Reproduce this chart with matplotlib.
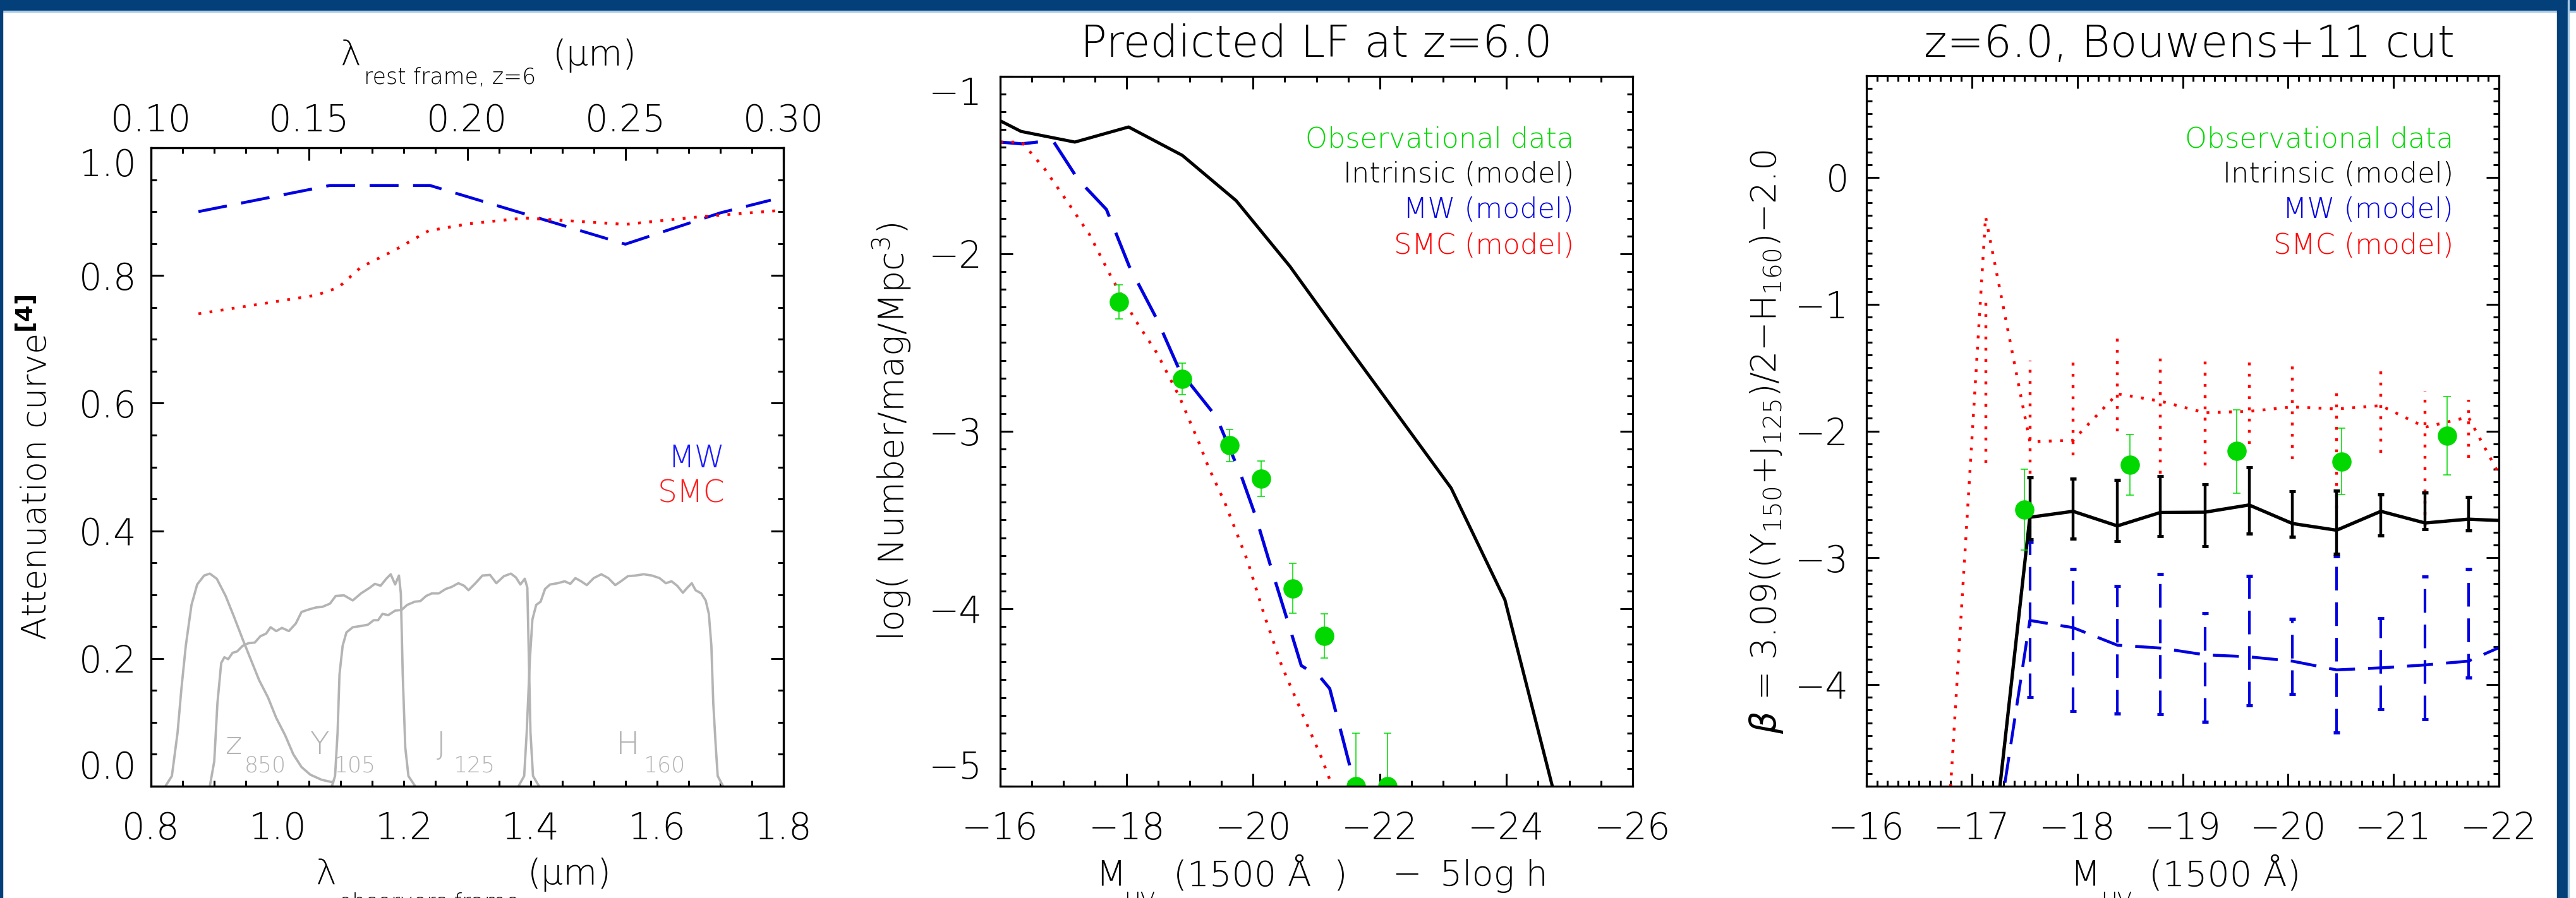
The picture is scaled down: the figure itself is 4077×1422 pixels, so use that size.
import numpy as np
import matplotlib
matplotlib.use("Agg")
import matplotlib.pyplot as plt
from matplotlib.patches import Rectangle
from matplotlib.ticker import MultipleLocator, FormatStrFormatter

W, H, DPI = 4077, 1422, 100

# ---------------- left panel: attenuation curves + filter throughputs
mw_lam = [0.875, 1.083, 1.241, 1.550, 1.700, 1.780]
mw_att = [0.900, 0.941, 0.941, 0.849, 0.898, 0.918]
smc_lam = [0.875, 1.061, 1.096, 1.132, 1.186, 1.239, 1.302, 1.391, 1.550, 1.668, 1.797]
smc_att = [0.740, 0.769, 0.781, 0.813, 0.840, 0.870, 0.881, 0.890, 0.880, 0.892, 0.902]

z850_lam = [0.824, 0.833, 0.842, 0.848, 0.855, 0.864, 0.873, 0.884, 0.893, 0.904, 0.918,
            0.931, 0.945, 0.958, 0.971, 0.985, 0.998, 1.012, 1.025, 1.038, 1.052, 1.070, 1.088]
z850_thr = [0.002, 0.016, 0.084, 0.152, 0.220, 0.284, 0.316, 0.330, 0.333, 0.325, 0.298,
            0.266, 0.230, 0.198, 0.166, 0.139, 0.107, 0.080, 0.050, 0.030, 0.018, 0.010, 0.006]
y105_lam = [0.893, 0.900, 0.905, 0.911, 0.916, 0.922, 0.929, 0.936, 0.945, 0.954, 0.964, 0.973,
            0.982, 0.989, 0.998, 1.007, 1.018, 1.029, 1.038, 1.050, 1.061, 1.071, 1.083, 1.092,
            1.105, 1.119, 1.132, 1.146, 1.154, 1.163, 1.172, 1.179, 1.186, 1.192, 1.195, 1.198,
            1.202, 1.207, 1.217]
y105_thr = [0.000, 0.039, 0.130, 0.193, 0.202, 0.199, 0.209, 0.211, 0.220, 0.224, 0.225, 0.235,
            0.239, 0.249, 0.243, 0.248, 0.243, 0.255, 0.273, 0.277, 0.280, 0.281, 0.286, 0.298,
            0.299, 0.291, 0.302, 0.311, 0.317, 0.314, 0.325, 0.332, 0.316, 0.330, 0.302, 0.175,
            0.061, 0.016, 0.001]
j125_lam = [1.086, 1.091, 1.095, 1.098, 1.103, 1.109, 1.119, 1.132, 1.143, 1.152, 1.159, 1.166,
            1.175, 1.186, 1.196, 1.205, 1.217, 1.226, 1.235, 1.244, 1.255, 1.266, 1.275, 1.286,
            1.295, 1.302, 1.313, 1.324, 1.336, 1.346, 1.358, 1.369, 1.377, 1.384, 1.391, 1.395,
            1.397, 1.400, 1.404, 1.413]
j125_thr = [0.000, 0.016, 0.084, 0.175, 0.220, 0.241, 0.249, 0.251, 0.253, 0.260, 0.260, 0.270,
            0.268, 0.275, 0.276, 0.284, 0.289, 0.290, 0.298, 0.302, 0.302, 0.309, 0.312, 0.318,
            0.314, 0.307, 0.318, 0.330, 0.331, 0.318, 0.329, 0.333, 0.327, 0.316, 0.325, 0.311,
            0.220, 0.084, 0.016, 0.001]
h160_lam = [1.381, 1.390, 1.394, 1.399, 1.403, 1.409, 1.416, 1.423, 1.431, 1.443, 1.454, 1.463,
            1.471, 1.480, 1.489, 1.500, 1.512, 1.523, 1.534, 1.543, 1.554, 1.566, 1.579, 1.592,
            1.604, 1.614, 1.623, 1.632, 1.641, 1.648, 1.655, 1.661, 1.670, 1.677, 1.682, 1.686,
            1.689, 1.693, 1.696, 1.704]
h160_thr = [0.000, 0.016, 0.084, 0.198, 0.261, 0.284, 0.289, 0.309, 0.316, 0.318, 0.321, 0.317,
            0.326, 0.321, 0.315, 0.326, 0.332, 0.326, 0.315, 0.321, 0.329, 0.330, 0.332, 0.330,
            0.326, 0.318, 0.321, 0.314, 0.303, 0.311, 0.318, 0.307, 0.302, 0.291, 0.270, 0.220,
            0.130, 0.061, 0.016, 0.001]

# ---------------- middle panel: luminosity function
lf_int_mag = [-16.0, -16.33, -17.18, -18.03, -18.88, -19.73, -20.58, -21.43, -22.28, -23.13, -23.98, -24.83]
lf_int = [-1.25, -1.31, -1.37, -1.285, -1.445, -1.70, -2.07, -2.49, -2.905, -3.32, -3.95, -5.14]
lf_mw_mag = [-16.0, -16.34, -16.83, -17.23, -17.68, -18.04, -18.48, -18.84, -19.42, -19.82,
             -20.04, -20.31, -20.58, -20.76, -21.07, -21.21, -21.43, -21.61]
lf_mw = [-1.37, -1.38, -1.36, -1.58, -1.75, -2.07, -2.37, -2.66, -2.92, -3.26,
         -3.48, -3.80, -4.11, -4.32, -4.39, -4.45, -4.75, -5.0]
lf_smc_mag = [-16.0, -16.34, -16.7, -17.05, -17.41, -17.77, -18.13, -18.48, -18.84, -19.15,
              -19.29, -19.55, -19.91, -20.18, -20.45, -20.80, -21.07, -21.25]
lf_smc = [-1.37, -1.37, -1.52, -1.70, -1.89, -2.14, -2.37, -2.56, -2.81, -3.07,
          -3.20, -3.40, -3.73, -4.04, -4.32, -4.61, -4.83, -5.0]
lf_obs_mag = [-17.875, -18.875, -19.625, -20.125, -20.625, -21.125, -21.625, -22.125]
lf_obs = [-2.27, -2.705, -3.08, -3.266, -3.885, -4.152, -5.0, -5.0]
lf_obs_err = [0.095, 0.09, 0.09, 0.10, 0.14, 0.125, 0.30, 0.30]

# ---------------- right panel: UV slope beta
b_mag = [-17.13, -17.55, -17.96, -18.38, -18.79, -19.21, -19.63, -20.04, -20.46, -20.88, -21.30, -21.71, -22.13]
b_int = [-5.82, -2.68, -2.633, -2.748, -2.642, -2.640, -2.583, -2.729, -2.782, -2.633, -2.725, -2.695, -2.71]
b_mw = [-5.77, -3.493, -3.55, -3.688, -3.711, -3.764, -3.78, -3.814, -3.883, -3.867, -3.844, -3.814, -3.66]
b_smc_mag = [-16.71] + b_mag
b_smc = [-6.0, -0.31, -2.085, -2.073, -1.707, -1.765, -1.856, -1.845, -1.81, -1.826, -1.80, -1.97, -1.89, -2.54]

err_mag = [-17.55, -17.96, -18.38, -18.79, -19.21, -19.63, -20.04, -20.46, -20.88, -21.30, -21.71]
int_hi = [-2.365, -2.376, -2.385, -2.358, -2.422, -2.284, -2.477, -2.472, -2.50, -2.486, -2.518]
int_lo = [-2.853, -2.851, -2.869, -2.830, -2.908, -2.807, -2.835, -2.966, -2.823, -2.775, -2.784]
mw_hi = [-2.874, -3.09, -3.22, -3.126, -3.436, -3.142, -3.48, -2.99, -3.477, -3.149, -3.09]
mw_lo = [-4.10, -4.21, -4.227, -4.234, -4.291, -4.165, -4.073, -4.376, -4.193, -4.273, -3.945]
smc_err_mag = [-17.13] + err_mag
smc_hi = [-0.98, -1.445, -1.41, -1.26, -1.376, -1.445, -1.445, -1.467, -1.64, -1.49, -1.685, -1.753]
smc_lo = [-2.25, -2.335, -2.19, -2.0, -2.335, -2.27, -2.1, -2.22, -2.61, -2.17, -2.75, -2.21]

obs_mag = [-17.50, -18.50, -19.51, -20.51, -21.51]
obs_beta = [-2.62, -2.266, -2.158, -2.239, -2.039]
obs_hi = [-2.30, -2.027, -1.833, -1.98, -1.73]
obs_lo = [-2.94, -2.507, -2.49, -2.50, -2.346]

legend_names = ['Observational data', 'Intrinsic (model)', 'MW (model)', 'SMC (model)']

GREEN = '#00d800'
BLUE = '#0000e0'
RED = '#ff0000'
GREY = '#b4b4b4'
FRAME = '#03407a'

# thin strokes, closer to the IDL vector font
plt.rcParams['font.family'] = ['DejaVu Sans']
plt.rcParams['font.weight'] = 200
plt.rcParams['mathtext.fontset'] = 'custom'
plt.rcParams['mathtext.rm'] = 'DejaVu Sans:weight=200'
plt.rcParams['mathtext.it'] = 'DejaVu Sans:italic'
plt.rcParams['mathtext.bf'] = 'DejaVu Sans:bold'


def pt(px):
    return px * 72.0 / DPI


fig = plt.figure(figsize=(W / DPI, H / DPI), dpi=DPI)
fig.patch.set_facecolor('white')


def ftext(x, y, s, **kw):
    kw.setdefault('va', 'baseline')
    return fig.text(x / W, 1 - y / H, s, **kw)


def add_ax(l, r, t, b):
    ax = fig.add_axes([l / W, 1 - b / H, (r - l) / W, (b - t) / H])
    for s in ax.spines.values():
        s.set_linewidth(2.3)
    return ax


TL = 41.5
LONG, SHORT = pt(20), pt(9)

# ======================= panel 1
ax1 = add_ax(239, 1240, 234, 1245)
for lam, thr in [(z850_lam, z850_thr), (y105_lam, y105_thr), (j125_lam, j125_thr), (h160_lam, h160_thr)]:
    ax1.plot(lam, thr, color=GREY, lw=2.7)
ax1.plot(mw_lam, mw_att, color=BLUE, lw=3.3, dashes=(10, 5))
ax1.plot(smc_lam, smc_att, color=RED, lw=3.2, dashes=(1, 3))
ax1.set_xlim(0.8, 1.8)
ax1.set_ylim(0.0, 1.0)
ax1.xaxis.set_major_locator(MultipleLocator(0.2))
ax1.xaxis.set_minor_locator(MultipleLocator(0.05))
ax1.yaxis.set_major_locator(MultipleLocator(0.2))
ax1.yaxis.set_minor_locator(MultipleLocator(0.05))
ax1.xaxis.set_major_formatter(FormatStrFormatter('%.1f'))
ax1.yaxis.set_major_formatter(FormatStrFormatter('%.1f'))
ax1.tick_params(axis='x', which='both', direction='in', length=SHORT, width=2.2,
                top=False, labelsize=TL, pad=28)
ax1.tick_params(axis='y', which='major', direction='in', length=LONG, width=2.2,
                right=True, labelsize=TL, pad=16)
ax1.tick_params(axis='y', which='minor', direction='in', length=SHORT, width=2.2, right=True)
for name, sub, xl, xs in [('z', '850', 0.931, 0.981), ('Y', '105', 1.067, 1.122),
                          ('J', '125', 1.259, 1.311), ('H', '160', 1.554, 1.612)]:
    ax1.text(xl, 0.050, name, color=GREY, fontsize=36, ha='center', va='baseline')
    ax1.text(xs, 0.022, sub, color=GREY, fontsize=25, ha='center', va='baseline')

ax1t = ax1.twiny()
ax1t.set_xlim(0.10, 0.30)
ax1t.xaxis.set_major_locator(MultipleLocator(0.05))
ax1t.xaxis.set_minor_locator(MultipleLocator(0.01))
ax1t.xaxis.set_major_formatter(FormatStrFormatter('%.2f'))
ax1t.tick_params(axis='x', which='major', direction='in', length=LONG, width=2.2,
                 labelsize=TL, pad=10)
ax1t.tick_params(axis='x', which='minor', direction='in', length=SHORT, width=2.2)
for s in ax1t.spines.values():
    s.set_linewidth(2.3)

ftext(1147, 740, 'MW', ha='right', fontsize=35, color='#1a1aff')
ftext(1147, 796, 'SMC', ha='right', fontsize=35, color='#ff2020')
fig.text(58 / W, 1 - 740 / H, r'Attenuation curve$^{\mathbf{[4]}}$', rotation=90,
         ha='center', va='center', fontsize=39)
ftext(554, 103, 'λ', ha='center', fontsize=40)
ftext(576, 133, 'rest frame, z=6', fontsize=25)
ftext(875, 103, '(μm)', fontsize=40)
ftext(515, 1400, 'λ', ha='center', fontsize=40)
ftext(536, 1440, 'observers frame', fontsize=25)
ftext(835, 1400, '(μm)', fontsize=40)

# ======================= panel 2
ax2 = add_ax(1583, 2584, 121, 1245)
ax2.plot(lf_int_mag, lf_int, color='k', lw=3.6)
ax2.plot(lf_mw_mag, lf_mw, color=BLUE, lw=3.6, dashes=(12, 5.5))
ax2.plot(lf_smc_mag, lf_smc, color=RED, lw=3.2, dashes=(1, 3))
ax2.errorbar(lf_obs_mag, lf_obs, yerr=lf_obs_err, fmt='o', color=GREEN, ms=21,
             ecolor=GREEN, elinewidth=1.1, capsize=4, capthick=1.1)
ax2.set_xlim(-16, -26)
ax2.set_ylim(-5, -1)
ax2.xaxis.set_major_locator(MultipleLocator(2))
ax2.xaxis.set_minor_locator(MultipleLocator(0.5))
ax2.yaxis.set_major_locator(MultipleLocator(1))
ax2.yaxis.set_minor_locator(MultipleLocator(0.1))
ax2.tick_params(which='major', direction='in', length=LONG, width=2.2, top=True, right=True,
                labelsize=TL)
ax2.tick_params(which='minor', direction='in', length=SHORT, width=2.2, top=True, right=True)
ax2.tick_params(axis='x', pad=28)
ax2.tick_params(axis='y', pad=20)

ftext(2083, 90, 'Predicted LF at z=6.0', ha='center', fontsize=50)
for name, col, yb in zip(legend_names, [GREEN, 'k', BLUE, RED], [234, 289, 345, 402]):
    ftext(2491, yb, name, ha='right', fontsize=32, color=col)
fig.text(1412 / W, 1 - 684 / H, 'log( Number/mag/Mpc$^3$)', rotation=90,
         ha='center', va='center', fontsize=40)
ftext(1734, 1402, 'M', fontsize=40)
ftext(1779, 1437, 'UV', fontsize=25)
ftext(1857, 1402, '(1500 Å  )', fontsize=40)
ftext(2203, 1402, '−', fontsize=40)
ftext(2279, 1402, '5log h', fontsize=40)

# ======================= panel 3
ax3 = add_ax(2954, 3955, 120, 1245)
ax3.plot(b_smc_mag, b_smc, color=RED, lw=3.2, dashes=(1, 3))
ax3.vlines(smc_err_mag, smc_lo, smc_hi, color=RED, lw=3.2, linestyles=(0, (1, 3)))
ax3.plot(b_mag, b_mw, color=BLUE, lw=3.3, dashes=(9, 4.5))
ax3.vlines(err_mag, mw_lo, mw_hi, color=BLUE, lw=3.0, linestyles=(0, (9, 4.5)))
ax3.plot(err_mag, mw_lo, ls='none', marker='_', ms=6.5, mew=3.6, color=BLUE)
ax3.plot(err_mag, mw_hi, ls='none', marker='_', ms=6.5, mew=3.6, color=BLUE)
ax3.plot(b_mag, b_int, color='k', lw=3.8)
ax3.vlines(err_mag, int_lo, int_hi, color='k', lw=3.2)
ax3.plot(err_mag, int_lo, ls='none', marker='_', ms=6.5, mew=3.6, color='k')
ax3.plot(err_mag, int_hi, ls='none', marker='_', ms=6.5, mew=3.6, color='k')
obs_b = np.array(obs_beta)
ax3.errorbar(obs_mag, obs_beta, yerr=[obs_b - np.array(obs_lo), np.array(obs_hi) - obs_b],
             fmt='o', color=GREEN, ms=21, ecolor=GREEN, elinewidth=1.1, capsize=4, capthick=1.1)
ax3.set_xlim(-16, -22)
ax3.set_ylim(-4.8, 0.8)
ax3.xaxis.set_major_locator(MultipleLocator(1))
ax3.xaxis.set_minor_locator(MultipleLocator(0.1))
ax3.yaxis.set_major_locator(MultipleLocator(1))
ax3.yaxis.set_minor_locator(MultipleLocator(0.1))
ax3.tick_params(which='major', direction='in', length=LONG, width=2.2, top=True, right=True,
                labelsize=TL)
ax3.tick_params(which='minor', direction='in', length=SHORT, width=2.2, top=True, right=True)
ax3.tick_params(axis='x', pad=28)
ax3.tick_params(axis='y', pad=20)

ftext(3465, 90, 'z=6.0, Bouwens+11 cut', ha='center', fontsize=50)
for name, col, yb in zip(legend_names, [GREEN, 'k', BLUE, RED], [234, 289, 345, 402]):
    ftext(3883, yb, name, ha='right', fontsize=32, color=col)
fig.text(2795 / W, 1 - 700 / H,
         r'$\beta$ = 3.09((Y$_{150}$+J$_{125}$)/2$-$H$_{160}$)$-$2.0',
         rotation=90, ha='center', va='center', fontsize=40)
ftext(3276, 1402, 'M', fontsize=40)
ftext(3325, 1437, 'UV', fontsize=25)
ftext(3401, 1402, '(1500 Å)', fontsize=40)

# ======================= slide frame
tf = fig.transFigure
fig.patches.append(Rectangle((0, 1 - 17 / H), 1, 17 / H, color=FRAME, transform=tf))
fig.patches.append(Rectangle((0, 1 - 19 / H), 1, 2 / H, color='#a9c9e4', transform=tf))
fig.patches.append(Rectangle((0, 0), 4 / W, 1, color=FRAME, transform=tf))
fig.patches.append(Rectangle((4047 / W, 0), 17 / W, 1, color=FRAME, transform=tf))
fig.patches.append(Rectangle((4064 / W, 0), 2 / W, 1, color='#a9c9e4', transform=tf))

# IDL keeps the end labels of the y axis inside the frame
fig.canvas.draw()
for ax in (ax1, ax2):
    lo, hi = ax.get_ylim()
    for tk in ax.yaxis.get_major_ticks():
        if abs(tk.get_loc() - hi) < 1e-6:
            tk.label1.set_va('top')
        elif abs(tk.get_loc() - lo) < 1e-6:
            tk.label1.set_va('bottom')

fig.savefig('out.png', dpi=DPI)
